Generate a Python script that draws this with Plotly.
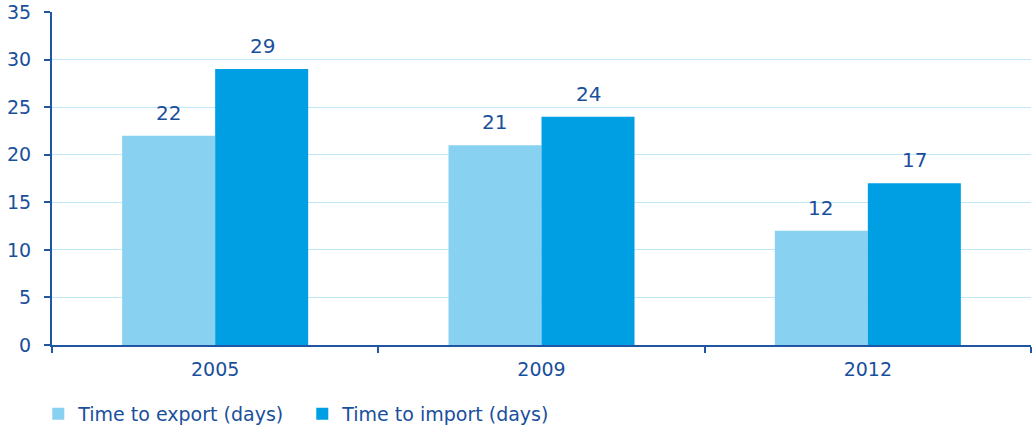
import plotly.graph_objects as go

years = ["2005", "2009", "2012"]
export_days = [22, 21, 12]
import_days = [29, 24, 17]
y_ticks = [0, 5, 10, 15, 20, 25, 30, 35]

txt = "#1a4f9c"
axis_col = "#1f56a3"
font_family = "DejaVu Sans, Verdana, sans-serif"
export_col = "#89d1f1"
import_col = "#009fe3"

fig = go.Figure()
fig.add_trace(go.Bar(x=years, y=export_days, name="Time to export (days)",
                     marker=dict(color=export_col, line=dict(width=0))))
fig.add_trace(go.Bar(x=years, y=import_days, name="Time to import (days)",
                     marker=dict(color=import_col, line=dict(width=0))))

# value labels above each bar (category axis: x is the category's serial number)
annotations = []
for series, shift in ((export_days, -47), (import_days, 47)):
    for i, v in enumerate(series):
        annotations.append(dict(x=i, y=v, xref="x", yref="y", text=str(v),
                                showarrow=False, xshift=shift, yshift=9,
                                yanchor="bottom", xanchor="center",
                                font=dict(size=20, color=txt, family=font_family)))

fig.update_layout(
    width=1035, height=430,
    margin=dict(l=52, r=4, t=12, b=85, autoexpand=False),
    paper_bgcolor="white", plot_bgcolor="white",
    font=dict(family=font_family, color=txt, size=18),
    barmode="group", bargap=0.43, bargroupgap=0,
    showlegend=True,
    legend=dict(orientation="h", x=-0.014, xanchor="left", y=-0.207, yanchor="middle",
                font=dict(size=19, color=txt), itemwidth=30, traceorder="normal",
                entrywidth=219, entrywidthmode="pixels",
                bgcolor="rgba(0,0,0,0)"),
    annotations=annotations,
)
fig.update_xaxes(type="category", categoryorder="array", categoryarray=years,
                 showline=True, linecolor=axis_col, linewidth=2,
                 ticks="outside", tickson="boundaries", ticklen=6, tickwidth=2,
                 tickcolor=axis_col, showgrid=False, automargin=False,
                 tickfont=dict(size=19, color=txt), ticklabelstandoff=6)
fig.update_yaxes(range=[0, 35], tickvals=y_ticks, showline=True, linecolor=axis_col,
                 linewidth=2, ticks="outside", ticklen=6, tickwidth=2, tickcolor=axis_col,
                 showgrid=True, gridcolor="#c2e7f8", gridwidth=1, zeroline=False,
                 automargin=False, ticklabeloverflow="allow",
                 tickfont=dict(size=19, color=txt), ticklabelstandoff=9)

fig.write_html("out.html", config={"displayModeBar": False},
               post_script="document.body.style.margin='0';")
